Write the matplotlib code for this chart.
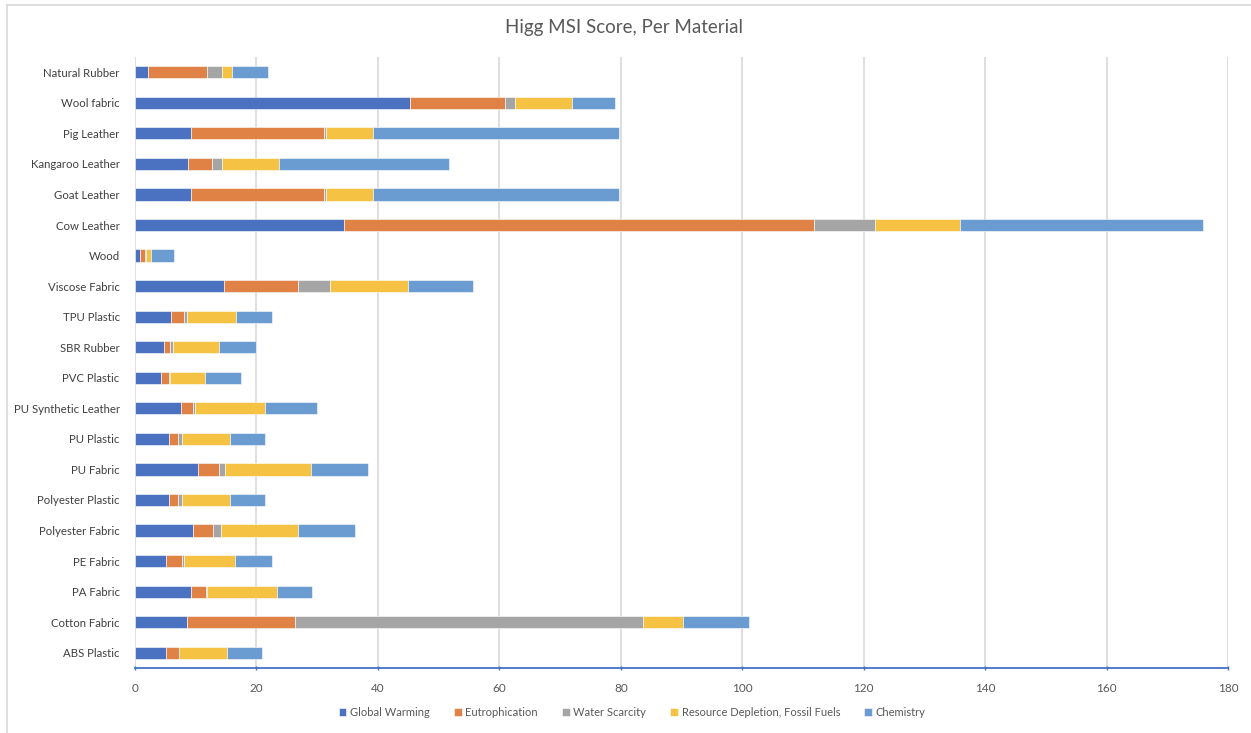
import matplotlib
matplotlib.use("Agg")
import matplotlib.pyplot as plt
from matplotlib.lines import Line2D
import numpy as np

plt.rcParams['font.family'] = ['Lato', 'DejaVu Sans']

materials = ["ABS Plastic", "Cotton Fabric", "PA Fabric", "PE Fabric", "Polyester Fabric",
             "Polyester Plastic", "PU Fabric", "PU Plastic", "PU Synthetic Leather", "PVC Plastic",
             "SBR Rubber", "TPU Plastic", "Viscose Fabric", "Wood", "Cow Leather",
             "Goat Leather", "Kangaroo Leather", "Pig Leather", "Wool fabric", "Natural Rubber"]

global_warming = [5.1, 8.6, 9.3, 5.1, 9.5, 5.6, 10.4, 5.6, 7.6, 4.2,
                  4.7, 6.0, 14.7, 0.9, 34.4, 9.3, 8.8, 9.3, 45.3, 2.1]
eutrophication = [2.1, 17.8, 2.4, 2.6, 3.3, 1.4, 3.5, 1.4, 2.0, 1.4,
                  1.1, 2.1, 12.2, 0.8, 77.5, 21.8, 3.8, 21.8, 15.7, 9.7]
water_scarcity = [0.1, 57.2, 0.1, 0.4, 1.4, 0.7, 1.0, 0.7, 0.2, 0.2,
                  0.5, 0.5, 5.2, 0.1, 10.0, 0.4, 1.8, 0.4, 1.6, 2.6]
resource_depletion = [7.8, 6.7, 11.6, 8.4, 12.7, 7.9, 14.1, 7.9, 11.6, 5.8,
                      7.6, 8.1, 12.9, 0.8, 13.9, 7.7, 9.3, 7.7, 9.3, 1.6]
chemistry = [5.8, 10.8, 5.8, 6.0, 9.3, 5.8, 9.3, 5.8, 8.5, 5.8,
             6.0, 5.8, 10.6, 3.8, 40.1, 40.5, 28.0, 40.5, 7.2, 5.9]

series_names = ["Global Warming", "Eutrophication", "Water Scarcity",
                "Resource Depletion, Fossil Fuels", "Chemistry"]
series_values = [global_warming, eutrophication, water_scarcity, resource_depletion, chemistry]
colors = ["#4a72c1", "#e08245", "#a5a5a5", "#f6c243", "#6a9bd1"]

x_ticks = [0, 20, 40, 60, 80, 100, 120, 140, 160, 180]

W, H = 1251, 733
fig = plt.figure(figsize=(W / 100, H / 100), dpi=100)
ax = fig.add_axes([135 / W, 1 - 668 / H, (1228 - 135) / W, (668 - 57) / H])

y = np.arange(len(materials))
left = np.zeros(len(materials))
for name, vals, c in zip(series_names, series_values, colors):
    vals = np.array(vals)
    ax.barh(y, vals, left=left, height=0.4, color=c, label=name,
            edgecolor='white', linewidth=0.4, zorder=3)
    left += vals

ax.set_xlim(0, 180)
ax.set_ylim(-0.5, len(materials) - 0.5)
ax.set_xticks(x_ticks)
ax.set_xticklabels([str(t) for t in x_ticks])
ax.set_yticks(y)
ax.set_yticklabels(materials)
ax.grid(axis='x', color='#d9d9d9', linewidth=1.2, zorder=0)
ax.set_axisbelow(True)

for s in ['top', 'right', 'left']:
    ax.spines[s].set_visible(False)
ax.spines['bottom'].set_color('#4472c4')
ax.spines['bottom'].set_linewidth(1.3)
ax.tick_params(axis='x', colors='#4472c4', length=3, width=1, direction='inout',
               labelcolor='#595959', labelsize=8.5, pad=9)
ax.tick_params(axis='y', length=0, labelcolor='#404040', labelsize=8.2, pad=11)

fig.text(624 / W, 1 - 27 / H, "Higg MSI Score, Per Material", ha='center', va='center',
         fontsize=13.5, color='#595959')

handles, labels = ax.get_legend_handles_labels()
leg = fig.legend(handles, labels, loc='center', bbox_to_anchor=(632 / W, 1 - 712 / H),
                 ncol=5, frameon=False, fontsize=8, handlelength=0.7, handleheight=0.7,
                 handletextpad=0.3, columnspacing=2.2)
for t in leg.get_texts():
    t.set_color('#595959')

# chart frame
fig.add_artist(Line2D([7 / W, 7 / W], [0, 1 - 5 / H], transform=fig.transFigure,
                      color='#d9d9d9', linewidth=1.2))
fig.add_artist(Line2D([7 / W, 1], [1 - 5 / H, 1 - 5 / H], transform=fig.transFigure,
                      color='#d9d9d9', linewidth=1.2))

fig.savefig("out.png", dpi=100)
